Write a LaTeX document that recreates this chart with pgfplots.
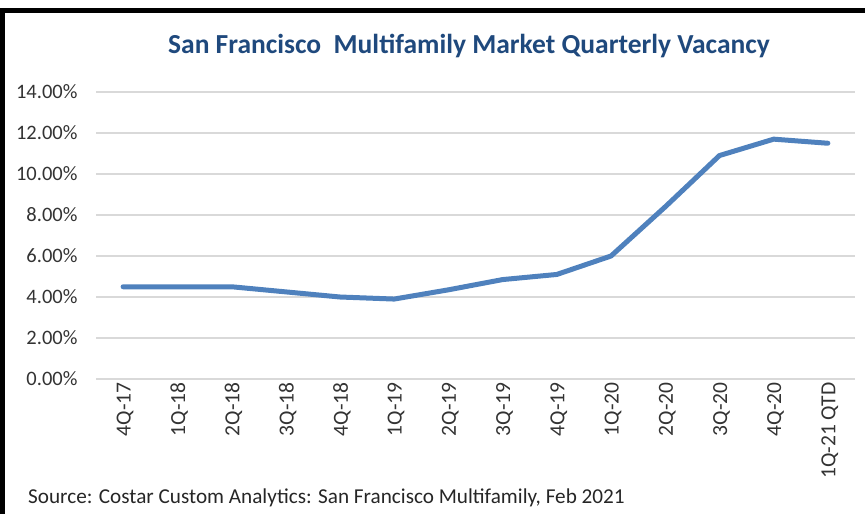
\documentclass[border=0pt]{standalone}
\usepackage{pgfplots}
\pgfplotsset{compat=1.18}
\usepackage{fontspec}
\setmainfont{Carlito}
\definecolor{linec}{HTML}{4F81BD}
\definecolor{titlec}{HTML}{1F497D}
\definecolor{gridc}{HTML}{D9D9D9}
\begin{document}
\begin{tikzpicture}[x=1pt,y=1pt]
\path[use as bounding box] (0,0) rectangle (865,-514);
\draw[line width=5pt] (2.5,-514) -- (2.5,-10) -- (865,-10);
\node[font=\bfseries\fontsize{27.5}{30}\selectfont, text=titlec] at (469,-46) {San Francisco\ \ Multifamily Market Quarterly Vacancy};
\node[anchor=base west, font=\fontsize{21.2}{24}\selectfont, text=black!85, inner sep=0pt] at (28,-503) {Source: Costar Custom Analytics: San Francisco Multifamily, Feb 2021};
\begin{axis}[
  at={(96pt,-379pt)}, anchor=south west,
  scale only axis, width=759pt, height=287pt,
  xmin=-0.5, xmax=13.5, ymin=0, ymax=14,
  ytick={0,2,...,14}, xtick={0,...,13},
  xticklabels={4Q-17,1Q-18,2Q-18,3Q-18,4Q-18,1Q-19,2Q-19,3Q-19,4Q-19,1Q-20,2Q-20,3Q-20,4Q-20,1Q-21 QTD},
  axis line style={draw=none}, major tick length=0pt,
  ymajorgrids, grid style={gridc, line width=1.5pt},
  /pgf/number format/assume math mode=true,
  yticklabel={\pgfmathprintnumber[fixed,fixed zerofill,precision=2]{\tick}\%},
  yticklabel style={font=\fontsize{20.5}{22}\selectfont, text=black!80, xshift=-15pt},
  xticklabel style={font=\fontsize{21.5}{24}\selectfont, text=black!80, rotate=90, anchor=east, yshift=-2pt},
  clip=false,
]
\addplot[linec, line width=5pt, line join=round, line cap=round] coordinates {
(0,4.5) (1,4.5) (2,4.5) (3,4.25) (4,4.0) (5,3.9) (6,4.35) (7,4.85) (8,5.1) (9,6.0) (10,8.4) (11,10.9) (12,11.7) (13,11.5)
};
\end{axis}
\end{tikzpicture}
\end{document}
